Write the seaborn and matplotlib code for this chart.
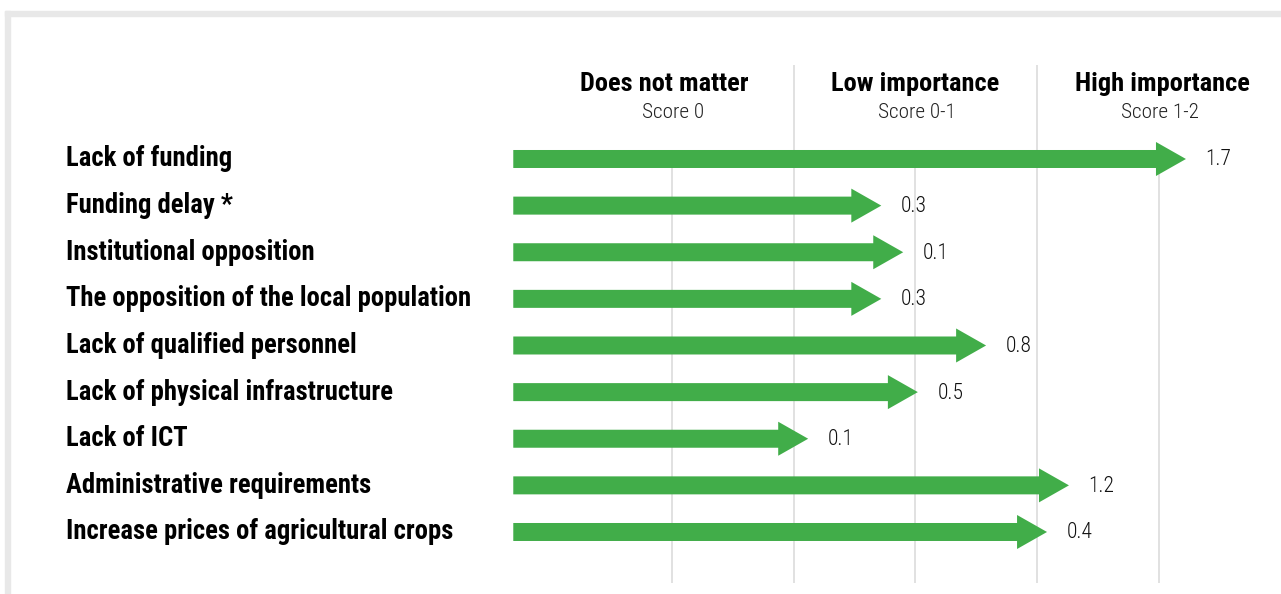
import matplotlib
matplotlib.use("Agg")
import matplotlib.pyplot as plt
import seaborn as sns
from matplotlib.patches import Rectangle

# Data
obstacles = [
    "Lack of funding",
    "Funding delay *",
    "Institutional opposition",
    "The opposition of the local population",
    "Lack of qualified personnel",
    "Lack of physical infrastructure",
    "Lack of ICT",
    "Administrative requirements",
    "Increase prices of agricultural crops",
]
scores = [1.7, 0.3, 0.1, 0.3, 0.8, 0.5, 0.1, 1.2, 0.4]
# arrow tip positions on the column scale (0-1 does not matter, 1-2 low, 2-3 high)
arrow_ends = [2.61, 1.36, 1.45, 1.36, 1.79, 1.51, 1.06, 2.13, 2.04]
arrow_start = -0.15
columns = ["Does not matter", "Low importance", "High importance"]
column_scores = ["Score 0", "Score 0-1", "Score 1-2"]

GREEN = "#41ad49"
GRID = "#dedede"

sns.set_theme(style="white")
plt.rcParams['font.family'] = ['Roboto Condensed', 'Liberation Sans Narrow', 'DejaVu Sans']

fig = plt.figure(figsize=(12.81, 5.94), dpi=100)
ax = fig.add_axes([0, 0, 1, 1])
ax.set_xlim(-2.256, 3.0)
ax.set_ylim(9.33, -3.41)
ax.axis('off')

# column boundaries and centre lines
ax.vlines([1, 2], -2.02, 9.1, color=GRID, lw=1.3, zorder=0)
ax.vlines([0.5, 1.5, 2.5], -0.2, 9.1, color=GRID, lw=1.3, zorder=0)

# column headers
title_pos = [0.47, 1.5, 2.515]
for i, (name, sc) in enumerate(zip(columns, column_scores)):
    ax.text(title_pos[i], -1.61, name, ha='center', va='center', fontsize=19,
            fontweight='bold', color='black')
    ax.text(i + 0.505, -0.99, sc, ha='center', va='center', fontsize=15.3,
            fontweight='light', color='#222222')

# arrows
for i, (end, val) in enumerate(zip(arrow_ends, scores)):
    ax.arrow(arrow_start, i, end - arrow_start, 0, width=0.386, head_width=0.73,
             head_length=0.123, length_includes_head=True, color=GREEN, lw=0)
    ax.text(end + 0.08, i + 0.02, f"{val:.1f}", ha='left', va='center', fontsize=15.5,
            fontweight='light', color='#111111')
    ax.text(-1.985, i, obstacles[i], ha='left', va='center', fontsize=19.2,
            fontweight='bold', color='black')

# light frame on top and left
fig.patches.append(Rectangle((5 / 1281, 1 - 16 / 594), 1276 / 1281, 5 / 594,
                             transform=fig.transFigure, color='#e8e8e8', zorder=0))
fig.patches.append(Rectangle((5 / 1281, 0), 5 / 1281, 583 / 594,
                             transform=fig.transFigure, color='#e8e8e8', zorder=0))

fig.savefig("out.png", dpi=100)
